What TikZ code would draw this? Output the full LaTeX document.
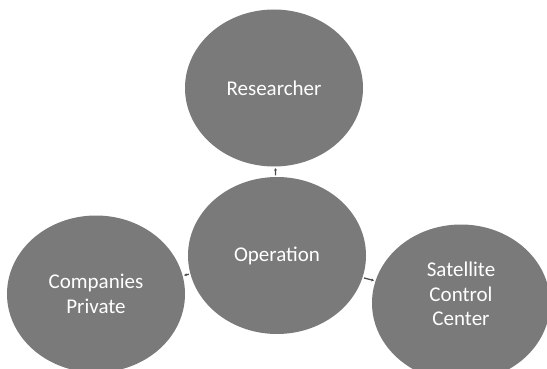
\documentclass[tikz,border=0pt]{standalone}
\usepackage{fontspec}
\setmainfont{Carlito}
\usetikzlibrary{shapes.geometric, arrows.meta, positioning}

\begin{document}
\begin{tikzpicture}[
        x=1pt, y=-1pt,
        every node/.style={font=\fontsize{21}{24.5}\selectfont, text=white, align=center},
        bubble/.style={ellipse, fill=black!52, minimum width=178pt, minimum height=157pt, inner sep=0pt},
        link/.style={draw=black!70, line width=1.3pt, -{Stealth[length=2.5pt, width=3pt]}, shorten >=1.5pt, shorten <=1.5pt}
    ]
        \useasboundingbox (0,0) rectangle (547,369);

        % --- Circles ---
        \node[bubble] (res) at (274, 88) {Researcher};
        \node[bubble] (op) at (277, 255.5) {Operation};
        \node[bubble] (comp) at (96, 294) {Companies\\Private};
        \node[bubble, label={[yshift=9pt]center:{Satellite\\Control\\Center}}] (sat) at (461, 303) {};

        % --- Links (from the centre) ---
        \draw[link] (op) -- (res);
        \draw[link] (op) -- (comp);
        \draw[link] (op) -- (sat);

    \end{tikzpicture}
\end{document}
